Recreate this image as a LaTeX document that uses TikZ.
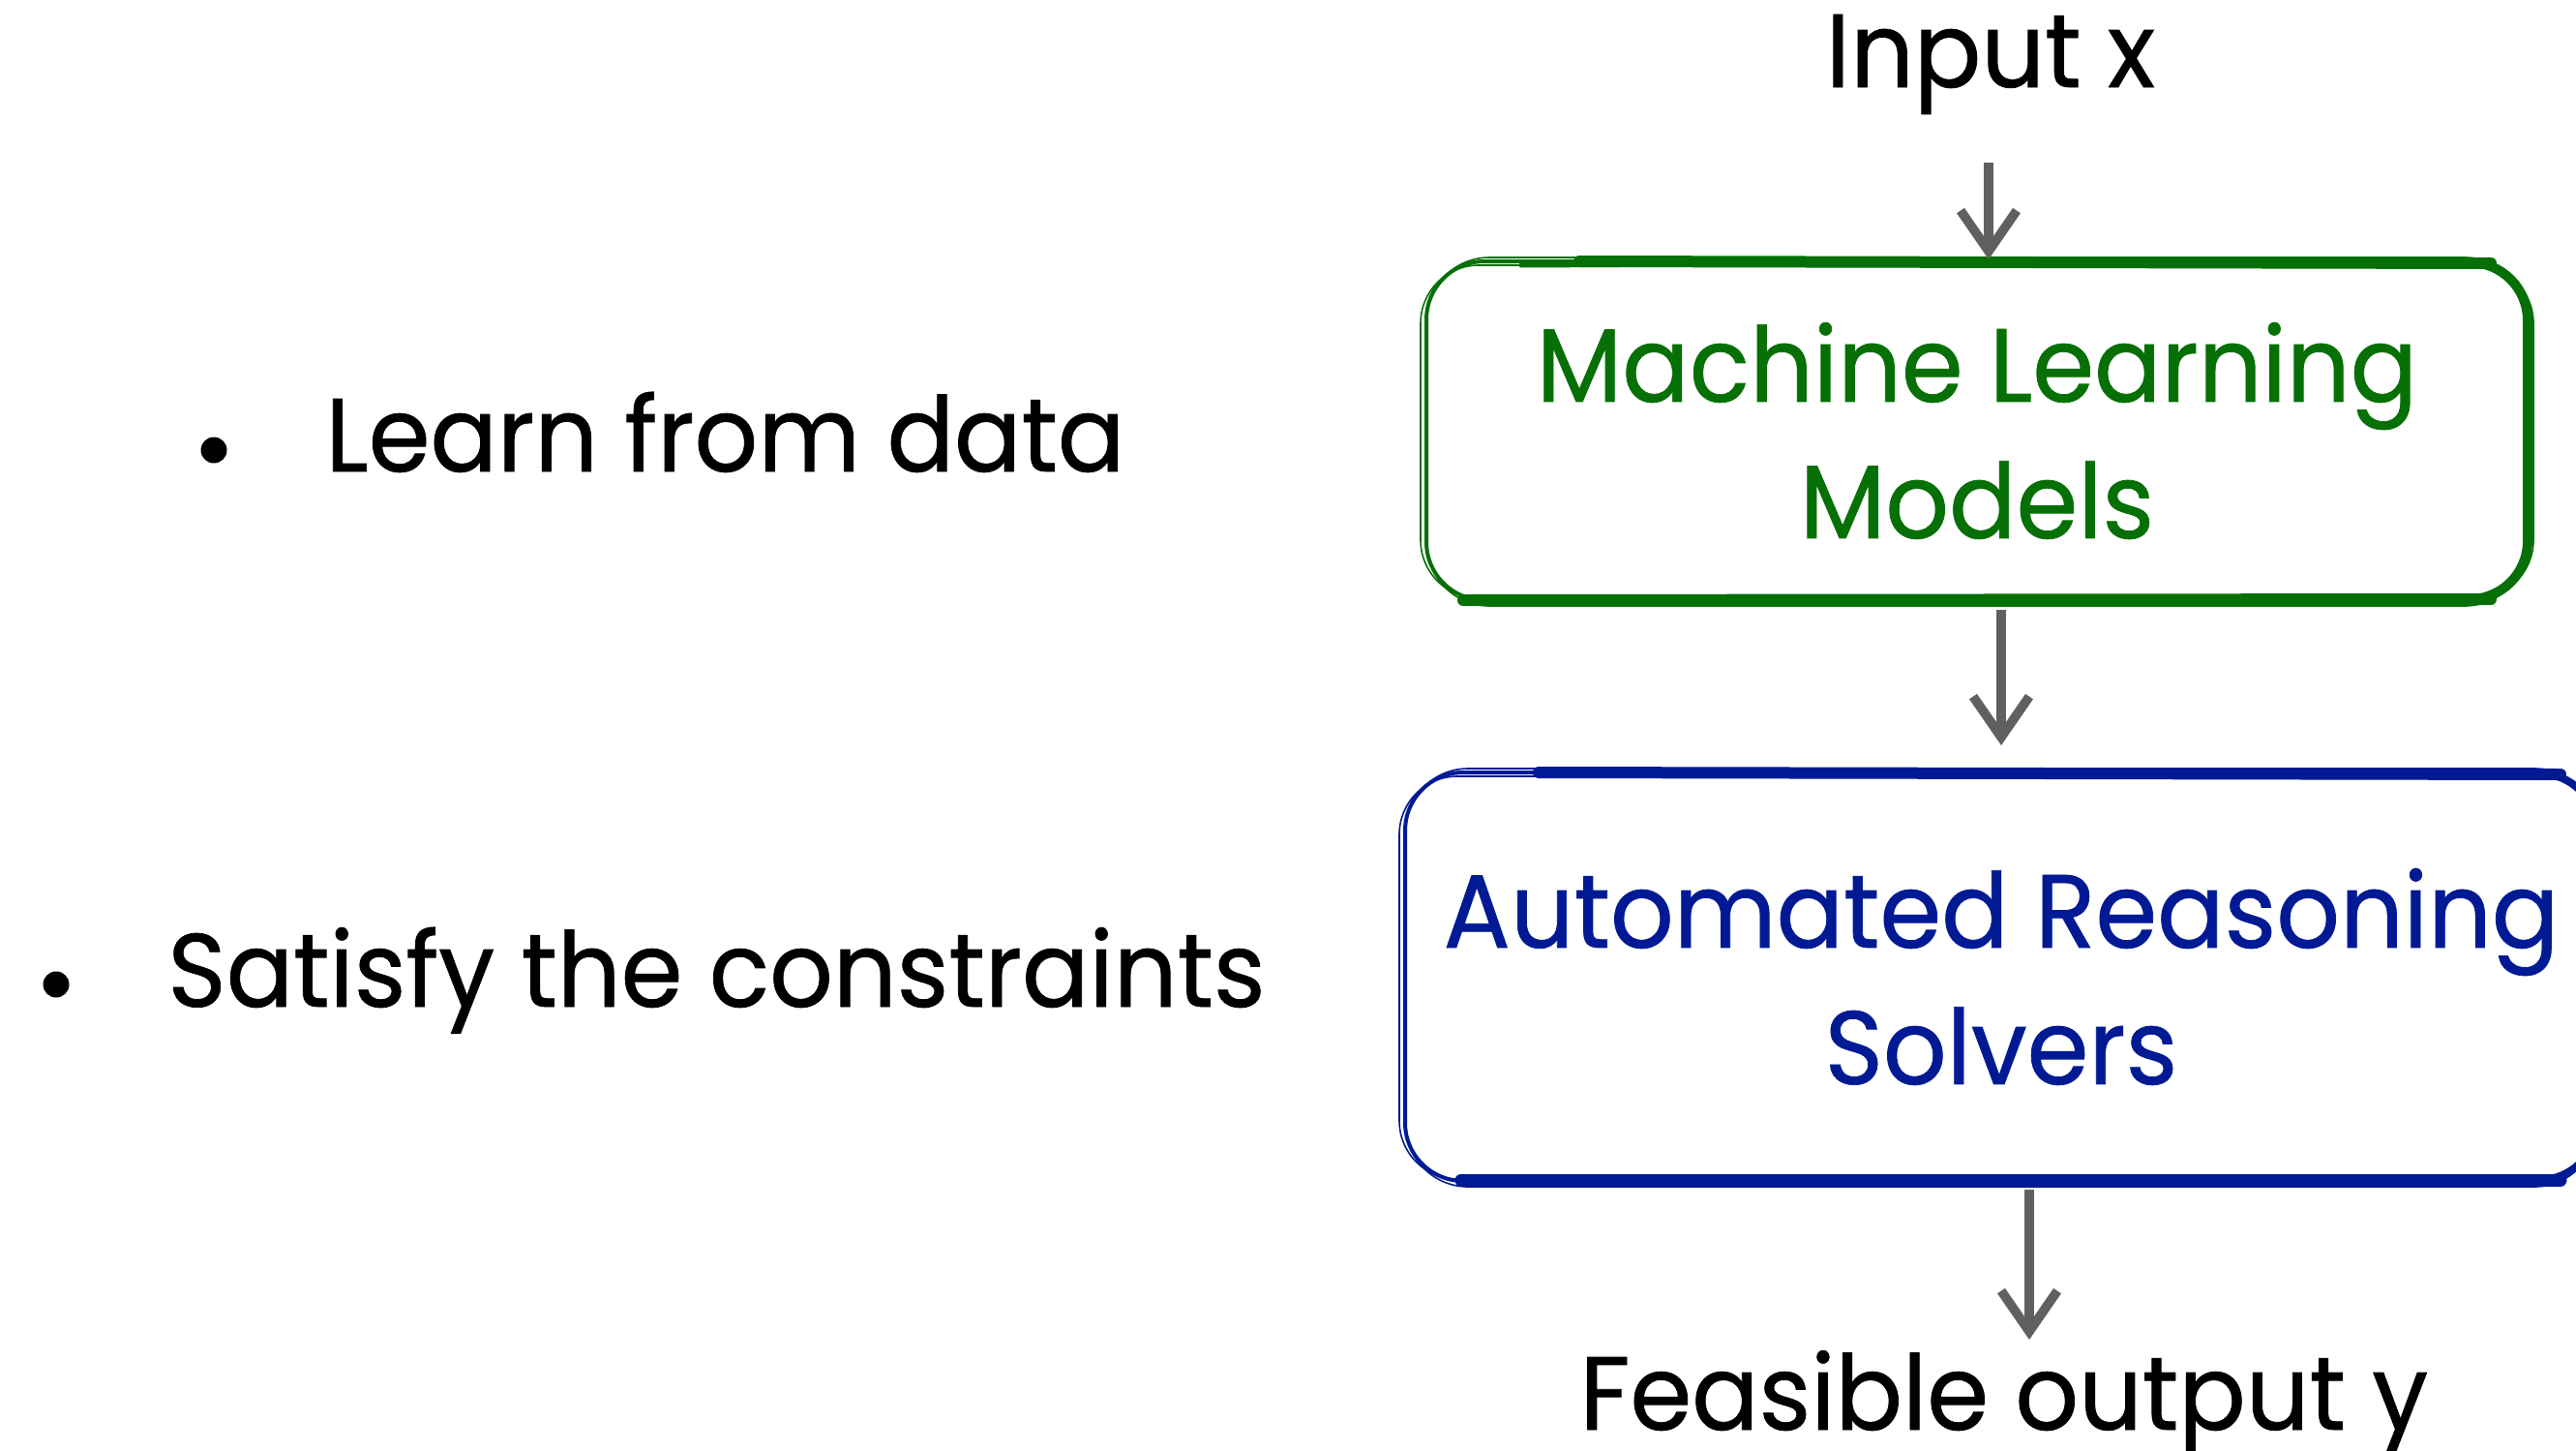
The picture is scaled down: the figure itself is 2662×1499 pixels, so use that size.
\documentclass[tikz,border=0pt]{standalone}
\usepackage{fontspec}
\setmainfont[FakeStretch=0.955,FakeBold=0.7]{Poppins}
\usetikzlibrary{arrows.meta,calc}
\definecolor{mlgreen}{RGB}{6,112,6}
\definecolor{arblue}{RGB}{0,26,148}
\definecolor{arrgray}{RGB}{96,96,96}
\begin{document}
\begin{tikzpicture}[x=0.5pt,y=-0.5pt]
\tikzset{
  lbl/.style={inner sep=0pt, font=\fontsize{53.8pt}{70.5pt}\selectfont},
  arr/.style={draw=arrgray, line width=4.8pt, -{Straight Barb[length=21pt,width=29pt]}},
  box/.style={lbl, align=center, rounded corners=30pt, line width=2pt},
  sketch/.style={line cap=round, line join=round},
  bullet/.style={circle, fill=black, inner sep=0pt, minimum size=13.5pt}
}
\useasboundingbox (0,0) rectangle (2662,1499);

% left bullet list
\node[bullet] (b1) at (221,465) {};
\node[lbl, anchor=base west] (t1) at (336,487) {Learn from data};
\node[bullet] (b2) at (58,1017) {};
\node[lbl, anchor=base west] (t2) at (173,1040) {Satisfy the constraints};

% flow
\node[lbl, anchor=base] (in) at (2057,90) {Input x};
\node[box, draw=mlgreen, text=mlgreen, minimum width=569pt, minimum height=175pt] (ml) at (2043,445) {Machine Learning\\Models};
\node[box, draw=arblue, text=arblue, minimum width=616pt, minimum height=211pt] (ar) at (2068,1009) {Automated Reasoning\\Solvers};
\node[lbl, anchor=base] (out) at (2071,1477) {Feasible output y};

% sketchy strokes, green box
\draw[sketch, mlgreen, line width=0.8pt, rounded corners=30pt] ($(ml.north west)+(-4,6)$) rectangle ($(ml.south east)+(4,-4)$);
\draw[sketch, mlgreen, line width=0.8pt, rounded corners=32pt] ($(ml.north west)+(3,-2)$) rectangle ($(ml.south east)+(-3,4)$);
\draw[sketch, mlgreen, line width=6pt] ($(ml.north west)+(160,2)$) -- ($(ml.north east)+(-40,4)$);
\draw[sketch, mlgreen, line width=2.5pt] ($(ml.north west)+(100,6)$) -- ($(ml.north west)+(300,5)$);
\draw[sketch, mlgreen, line width=6pt] ($(ml.south west)+(40,-2)$) -- ($(ml.south east)+(-40,-3)$);
\draw[sketch, mlgreen, line width=5pt, rounded corners=30pt] ($(ml.north east)+(-80,3)$) -- ($(ml.north east)+(-2,3)$) -- ($(ml.south east)+(-2,-3)$) -- ($(ml.south east)+(-80,-3)$);

% sketchy strokes, blue box
\draw[sketch, arblue, line width=0.8pt, rounded corners=30pt] ($(ar.north west)+(-4,6)$) rectangle ($(ar.south east)+(4,-4)$);
\draw[sketch, arblue, line width=0.8pt, rounded corners=32pt] ($(ar.north west)+(3,-2)$) rectangle ($(ar.south east)+(-3,4)$);
\draw[sketch, arblue, line width=6pt] ($(ar.north west)+(140,2)$) -- ($(ar.north east)+(-40,4)$);
\draw[sketch, arblue, line width=6.5pt] ($(ar.south west)+(60,-3)$) -- ($(ar.south east)+(-40,-3)$);
\draw[sketch, arblue, line width=4pt, rounded corners=30pt] ($(ar.north east)+(-80,3)$) -- ($(ar.north east)+(-2,3)$) -- ($(ar.south east)+(-2,-3)$) -- ($(ar.south east)+(-80,-3)$);

% connectors
\coordinate (a1) at (2055,168);
\draw[arr] (a1) -- (a1 |- ml.north);
\coordinate (a2) at (2068,0);
\draw[arr, shorten <=4pt, shorten >=13pt] (ml.south -| a2) -- (ar.north -| a2);
\coordinate (a3) at (2097,0);
\coordinate (a3e) at (2097,1384);
\draw[arr, shorten <=3.5pt] (ar.south -| a3) -- (a3e);
\end{tikzpicture}
\end{document}
